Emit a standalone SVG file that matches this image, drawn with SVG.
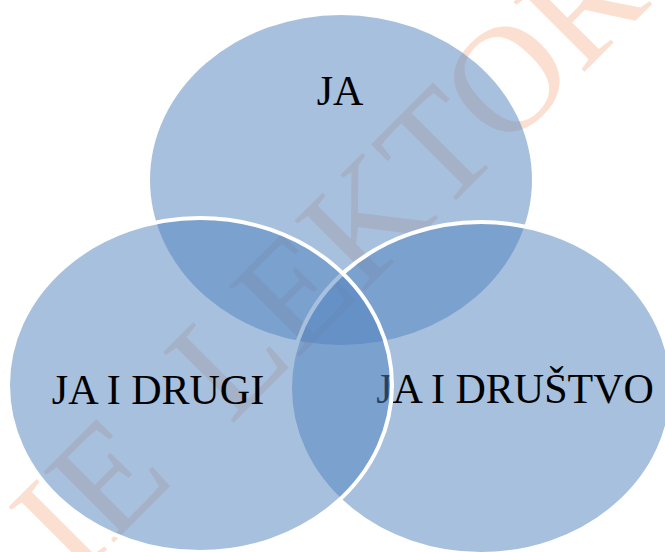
<svg xmlns="http://www.w3.org/2000/svg" width="665" height="552" viewBox="0 0 665 552">
  <style>
    .wm { font-family: "Liberation Serif", "Times New Roman", serif; font-size: 152px; fill: #fbe0d1; }
    .blob { fill: #4F81BD; fill-opacity: 0.5; }
    .edge { stroke: #ffffff; stroke-width: 4; }
    .lbl { font-family: "Liberation Serif", "Times New Roman", serif; font-size: 42px; fill: #000000; }
  </style>
  <rect width="665" height="552" fill="#ffffff"/>
  <g id="watermark" transform="rotate(-45)">
    <text class="wm" y="464"><tspan x="-358">IE</tspan><tspan x="-138">LEKTOR</tspan></text>
  </g>
  <g id="node-ja">
    <ellipse class="blob" cx="341" cy="180" rx="191" ry="165"/>
    <text class="lbl" x="340" y="105" text-anchor="middle">JA</text>
  </g>
  <g id="node-drustvo">
    <ellipse class="blob edge" cx="481" cy="388" rx="191" ry="166"/>
    <text class="lbl" x="515" y="403" text-anchor="middle">JA I DRUŠTVO</text>
  </g>
  <g id="node-drugi">
    <ellipse class="blob edge" cx="200" cy="385" rx="192" ry="167"/>
    <text class="lbl" x="158" y="404" text-anchor="middle">JA I DRUGI</text>
  </g>
  <g id="connectors"/>
</svg>
